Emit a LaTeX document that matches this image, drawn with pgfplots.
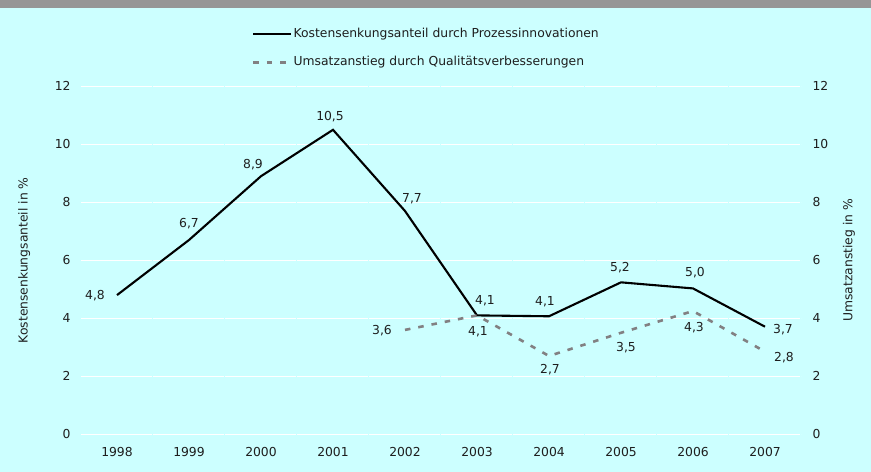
\documentclass[border=0pt]{standalone}
\usepackage{fontspec}
\setmainfont{DejaVu Sans}
\usepackage{pgfplots}
\pgfplotsset{compat=1.18}
\usepackage{pgfplotstable}
\definecolor{bgc}{RGB}{204,255,255}
\definecolor{band}{RGB}{150,150,150}
\definecolor{ums}{RGB}{130,128,130}
\definecolor{txt}{RGB}{30,30,30}

\pgfplotstableread{
x y lab dx dy
0 4.8 4,8 -22 0
1 6.7 6,7 0 17
2 8.9 8,9 -8 12
3 10.5 10,5 -3 14
4 7.7 7,7 7 13
5 4.1 4,1 8 15
6 4.07 4,1 -4 15
7 5.24 5,2 -1 15
8 5.03 5,0 2 16
9 3.71 3,7 18 -2
}\kosten

\pgfplotstableread{
x y lab dx dy
4 3.6 3,6 -23 0
5 4.1 4,1 1 -16
6 2.7 2,7 1 -13
7 3.5 3,5 5 -14
8 4.25 4,3 1 -16
9 2.85 2,8 19 -5
}\umsatz

\newcommand{\fs}{\fontsize{12.4}{14.5}\selectfont}

\pgfplotsset{
  common/.style={
    at={(81bp,37.7bp)}, anchor=south west,
    scale only axis, width=720bp, height=348bp,
    xmin=-0.5, xmax=9.5, ymin=0, ymax=12,
    axis line style={draw=none},
    major tick length=0pt,
    ytick={0,2,4,6,8,10,12},
    /pgf/number format/assume math mode=true,
    every tick label/.append style={font=\fs, text=txt},
    label style={font=\fs, text=txt},
  },
  lbl/.style={
    nodes near coords,
    point meta=explicit symbolic,
    visualization depends on={\thisrow{dx}\as\dx},
    visualization depends on={\thisrow{dy}\as\dy},
    every node near coord/.append style={anchor=center, xshift=\dx bp, yshift=\dy bp,
      font=\fs, text=txt, inner sep=0pt, text height=9bp, text depth=0pt},
  },
}

\begin{document}
\begin{tikzpicture}
\fill[bgc] (0bp,0bp) rectangle (871bp,472bp);
\fill[band] (0bp,463.5bp) rectangle (871bp,472bp);
\useasboundingbox (0bp,0bp) rectangle (871bp,472bp);
\begin{axis}[common,
  xtick={0,1,2,3,4,5,6,7,8,9},
  xticklabels={1998,1999,2000,2001,2002,2003,2004,2005,2006,2007},
  xticklabel style={yshift=-10bp},
  yticklabel style={xshift=-7bp},
  ymajorgrids,
  major grid style={white, line width=1.2bp, dash pattern=on 70.8bp off 1.2bp},
  ylabel={Kostensenkungsanteil in \%},
  every axis y label/.style={at={(axis description cs:-0.079,0.5)}, rotate=90, anchor=center, font=\fs, text=txt},
  legend style={at={(axis description cs:0.2375,1.109)}, anchor=west, draw=none, fill=none,
    inner sep=0pt, outer sep=0pt, row sep=14bp, font=\fs, text=txt, cells={anchor=west},
    nodes={inner sep=1.5bp, text height=9bp, text depth=2.5bp}},
  legend image code/.code={\draw[#1] (0bp,0bp) -- (37.5bp,0bp);},
  clip=false,
]
\addplot[black, line width=2.1bp, lbl] table[x=x, y=y, meta=lab] {\kosten};
\addlegendentry{Kostensenkungsanteil durch Prozessinnovationen}
\addplot[ums, line width=2.6bp, dash pattern=on 5.5bp off 8bp, lbl] table[x=x, y=y, meta=lab] {\umsatz};
\addlegendentry{Umsatzanstieg durch Qualitätsverbesserungen}
\end{axis}
\begin{axis}[common,
  hide x axis,
  axis y line*=right,
  yticklabel style={xshift=8bp},
  ylabel={Umsatzanstieg in \%},
  every axis y label/.style={at={(axis description cs:1.0667,0.5)}, rotate=90, anchor=center, font=\fs, text=txt},
]
\end{axis}
\end{tikzpicture}
\end{document}
